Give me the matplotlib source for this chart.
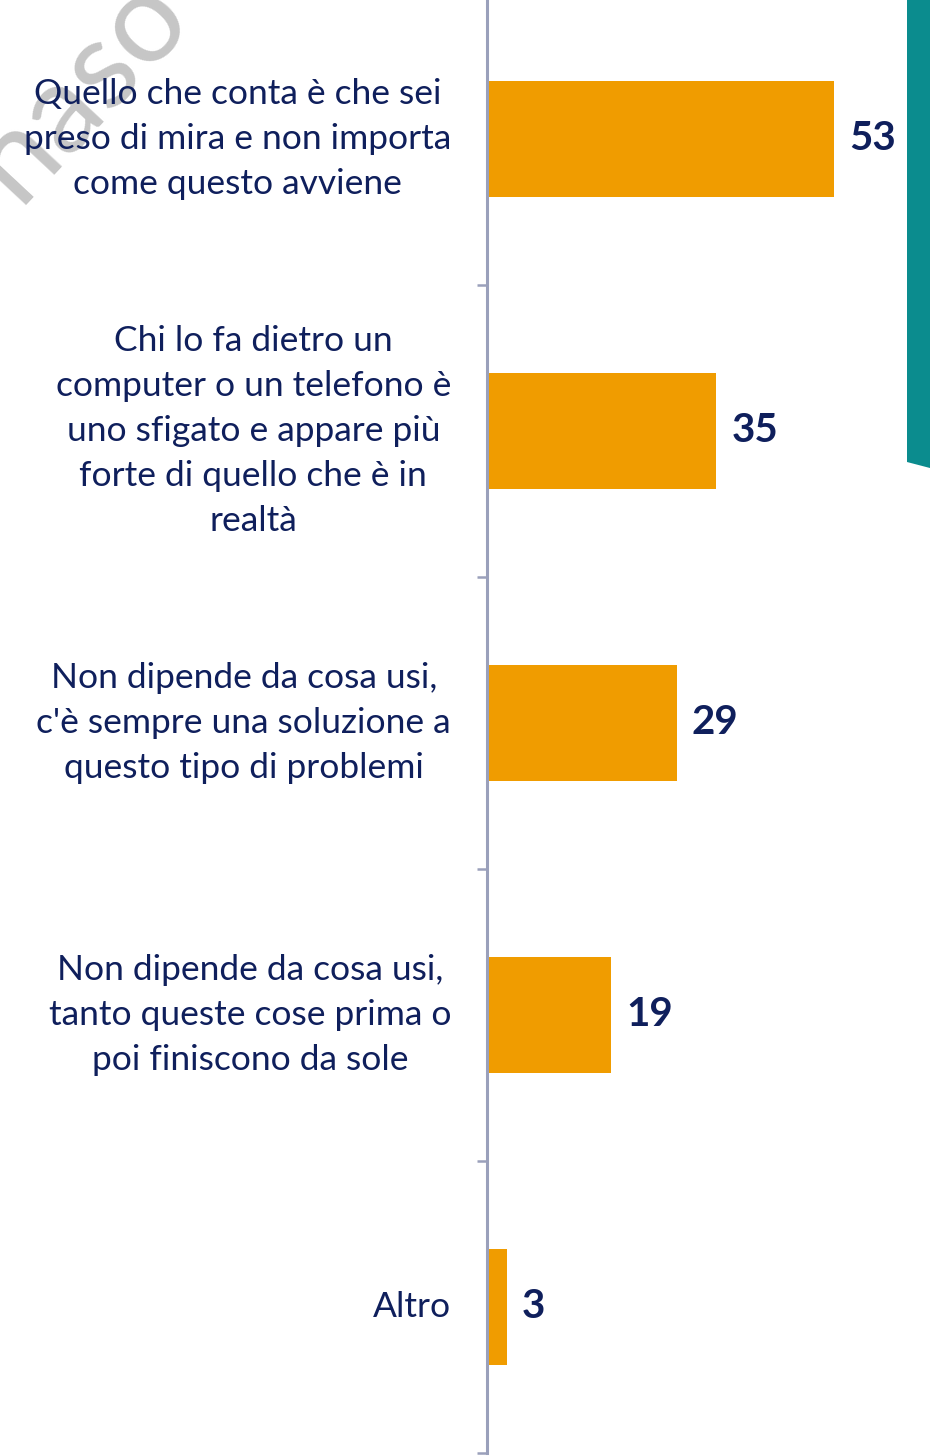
import matplotlib
matplotlib.use("Agg")
import matplotlib.pyplot as plt
from matplotlib.patches import Polygon

categories = [
    "Quello che conta è che sei\npreso di mira e non importa\ncome questo avviene",
    "Chi lo fa dietro un\ncomputer o un telefono è\nuno sfigato e appare più\nforte di quello che è in\nrealtà",
    "Non dipende da cosa usi,\nc'è sempre una soluzione a\nquesto tipo di problemi",
    "Non dipende da cosa usi,\ntanto queste cose prima o\npoi finiscono da sole",
    "Altro",
]
values = [53, 35, 29, 19, 3]

BAR_COLOR = "#f09c00"
TEXT_COLOR = "#0f1f5c"
AXIS_COLOR = "#9aa0bb"
TEAL = "#0b8c8e"

plt.rcParams['font.family'] = ['Lato', 'DejaVu Sans']

W, H = 930, 1456
fig = plt.figure(figsize=(W / 100, H / 100), dpi=100)

# watermark (behind everything)
fig.text(80 / W, 1 - 88 / H, "naso", rotation=47, fontsize=90, color="#c6c6c6",
         ha="center", va="center", zorder=-5)

# teal strip on right edge
fig.patches.append(Polygon([(907 / W, 1.0), (1.0, 1.0), (1.0, 1 - 468 / H), (907 / W, 1 - 462 / H)],
                           closed=True, transform=fig.transFigure, facecolor=TEAL,
                           edgecolor="none", zorder=-4))

ax_left = 487 / W
ax_bottom = (H - 1453) / H
ax_top = (H + 7) / H
ax = fig.add_axes([ax_left, ax_bottom, 1 - ax_left, ax_top - ax_bottom])
ax.patch.set_alpha(0)

y = list(range(len(values)))
ax.barh(y, values, height=0.4, color=BAR_COLOR, zorder=2)
ax.set_ylim(len(values) - 0.5, -0.5)
ax.set_xlim(0, (W - 487) / 6.55)

for s in ["top", "right", "bottom"]:
    ax.spines[s].set_visible(False)
ax.spines["left"].set_color(AXIS_COLOR)
ax.spines["left"].set_linewidth(2.2)
ax.set_xticks([])
ax.set_yticks([i + 0.5 for i in range(-1, len(values))])
ax.set_yticklabels([])
ax.tick_params(axis="y", length=7, width=1.8, color=AXIS_COLOR, direction="out")

lab_x = (451 - 487) / (W - 487)
for i, (c, v) in enumerate(zip(categories, values)):
    ax.text(lab_x, i, c, transform=ax.get_yaxis_transform(), ha="right", va="center",
            multialignment="center", fontsize=25.5, color=TEXT_COLOR, linespacing=1.5,
            clip_on=False)
    ax.annotate(str(v), xy=(v, i), xytext=(15, 0), textcoords="offset pixels",
                ha="left", va="center", fontsize=29, fontweight="bold", color=TEXT_COLOR)

fig.savefig("out.png", dpi=100)
